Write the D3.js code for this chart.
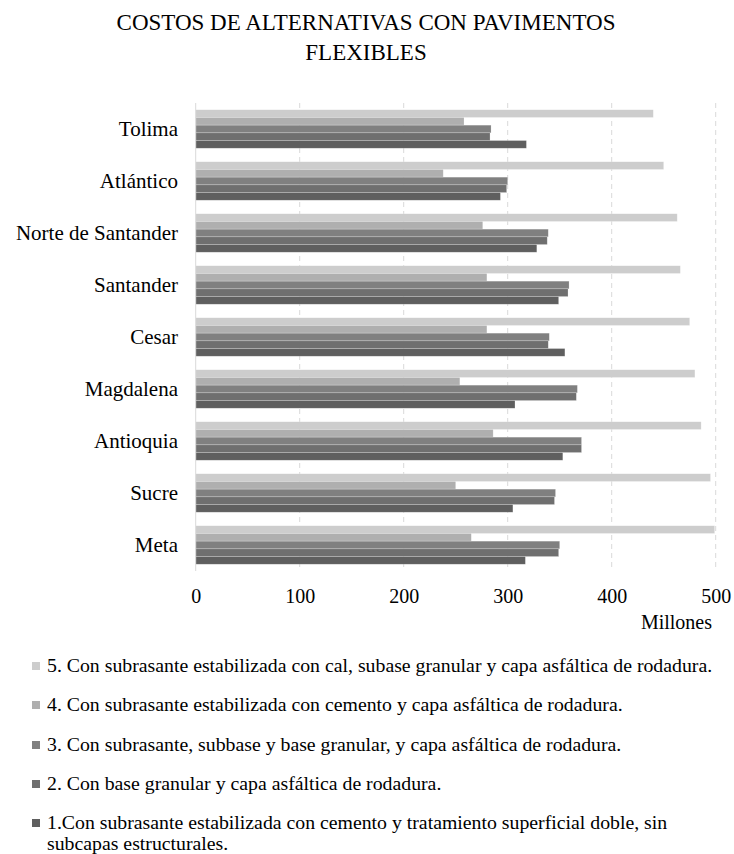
<!DOCTYPE html>
<html>
<head>
<meta charset="utf-8">
<script src="https://cdn.jsdelivr.net/npm/d3@7"></script>
<style>
  html, body { margin: 0; padding: 0; background: #fff; }
  svg { display: block; font-family: "Liberation Serif", "Times New Roman", serif; }
</style>
</head>
<body>
<svg id="chart" width="734" height="854"></svg>
<script>
// Departments, top to bottom
const categories = ["Tolima", "Atlántico", "Norte de Santander", "Santander", "Cesar",
                    "Magdalena", "Antioquia", "Sucre", "Meta"];

// Cost per alternative (millones de pesos)
const alt1 = [318, 293, 328, 349, 355, 307, 353, 305, 317];
const alt2 = [283, 299, 338, 358, 339, 366, 371, 345, 349];
const alt3 = [284, 300, 339, 359, 340, 367, 371, 346, 350];
const alt4 = [258, 238, 276, 280, 280, 254, 286, 250, 265];
const alt5 = [440, 450, 463, 466, 475, 480, 486, 495, 499];

const seriesNames = [
  "5. Con subrasante estabilizada con cal, subase granular y capa asfáltica de rodadura.",
  "4. Con subrasante estabilizada con cemento y capa asfáltica de rodadura.",
  "3. Con subrasante, subbase y base granular, y capa asfáltica de rodadura.",
  "2. Con base granular y capa asfáltica de rodadura.",
  "1.Con subrasante estabilizada con cemento y tratamiento superficial doble, sin subcapas estructurales."
];
const tickValues = [0, 100, 200, 300, 400, 500];

const seriesValues = [alt5, alt4, alt3, alt2, alt1];
const colors = ["#cdcdcd", "#afafaf", "#808080", "#6f6f6f", "#5f5f5f"];

const svg = d3.select("#chart");

// Title
const title = svg.append("text")
  .attr("text-anchor", "middle")
  .attr("font-size", 23)
  .attr("fill", "#000");
title.append("tspan").attr("x", 366).attr("y", 30).text("COSTOS DE ALTERNATIVAS CON PAVIMENTOS");
title.append("tspan").attr("x", 366).attr("y", 60).text("FLEXIBLES");

// Scales
const x = d3.scaleLinear().domain([0, 500]).range([195.7, 715.7]);
const y = d3.scaleBand().domain(categories).range([103, 571]).paddingInner(0.26).paddingOuter(0.13);
const ySeries = d3.scaleBand().domain(d3.range(5)).range([0, y.bandwidth()]);

// Vertical gridlines
svg.append("g").selectAll("line")
  .data(tickValues.filter(d => d > 0))
  .join("line")
  .attr("x1", d => x(d)).attr("x2", d => x(d))
  .attr("y1", 103).attr("y2", 571)
  .attr("stroke", "#d9d9d9").attr("stroke-width", 1)
  .attr("stroke-dasharray", "5,4");

// Bars
const groups = svg.append("g").selectAll("g")
  .data(categories)
  .join("g")
  .attr("transform", d => `translate(0,${y(d)})`);

groups.selectAll("rect")
  .data((c, i) => seriesValues.map((vals, s) => ({ s, v: vals[i] })))
  .join("rect")
  .attr("x", x(0))
  .attr("y", d => ySeries(d.s))
  .attr("width", d => x(d.v) - x(0))
  .attr("height", ySeries.bandwidth())
  .attr("fill", d => colors[d.s])
  .attr("stroke", "#ffffff")
  .attr("stroke-opacity", 0.35)
  .attr("stroke-width", 0.6);

// Category axis line
svg.append("line")
  .attr("x1", x(0)).attr("x2", x(0))
  .attr("y1", 103).attr("y2", 571)
  .attr("stroke", "#d9d9d9").attr("stroke-width", 1);

// Category labels
svg.append("g").selectAll("text")
  .data(categories)
  .join("text")
  .attr("x", 178)
  .attr("y", d => y(d) + y.bandwidth() / 2)
  .attr("dy", "0.35em")
  .attr("text-anchor", "end")
  .attr("font-size", 21)
  .attr("fill", "#000")
  .text(d => d);

// Value axis
const xAxis = d3.axisBottom(x).tickValues(tickValues).tickSize(0).tickPadding(0);
const gx = svg.append("g").attr("transform", "translate(0,603)").call(xAxis);
gx.select(".domain").remove();
gx.selectAll("text")
  .attr("font-family", "Liberation Serif, Times New Roman, serif")
  .attr("font-size", 20)
  .attr("fill", "#000")
  .attr("dy", 0);

svg.append("text")
  .attr("x", 712).attr("y", 629)
  .attr("text-anchor", "end")
  .attr("font-size", 20)
  .attr("fill", "#000")
  .text("Millones");

// Legend
const legendY = [666, 705, 745, 784, 823];
const legend = svg.append("g").selectAll("g")
  .data(seriesNames)
  .join("g")
  .attr("transform", (d, i) => `translate(0,${legendY[i]})`);

legend.append("rect")
  .attr("x", 32).attr("y", -4)
  .attr("width", 8).attr("height", 8)
  .attr("fill", (d, i) => colors[i]);

legend.each(function (d, i) {
  const t = d3.select(this).append("text")
    .attr("font-size", 19.8)
    .attr("fill", "#000");
  if (i === 4) {
    t.append("tspan").attr("x", 47).attr("y", 6)
      .text("1.Con subrasante estabilizada con cemento y tratamiento superficial doble, sin");
    t.append("tspan").attr("x", 47).attr("y", 27).text("subcapas estructurales.");
  } else {
    t.append("tspan").attr("x", 47).attr("y", 6).text(d);
  }
});
</script>
</body>
</html>
